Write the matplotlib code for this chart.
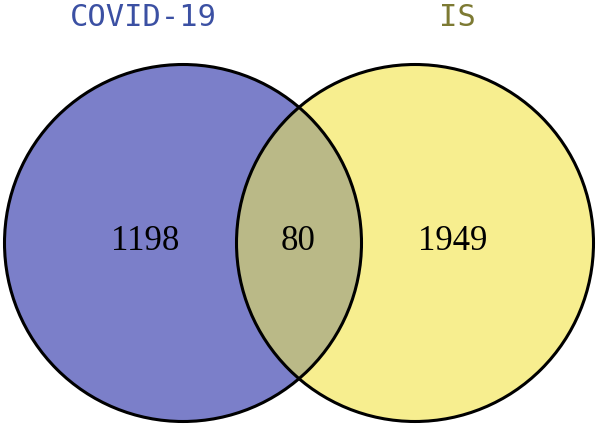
import matplotlib
matplotlib.use("Agg")
import matplotlib.pyplot as plt
from matplotlib.patches import Ellipse

set_names = ["COVID-19", "IS"]
only_counts = [1198, 1949]
shared_count = 80

fig = plt.figure(figsize=(5.96, 4.26), dpi=100)
ax = fig.add_axes([0, 0, 1, 1])
ax.set_xlim(0, 596)
ax.set_ylim(426, 0)
ax.axis("off")

lc, rc, d = (183, 243), (415, 243), 357
left = Ellipse(lc, d, d, facecolor="#7b7fc9", edgecolor="none")
right = Ellipse(rc, d, d, facecolor="#f7ee8f", edgecolor="none")
ax.add_patch(left)
ax.add_patch(right)
# overlap: a copy of the left shape clipped to the right one
mid = Ellipse(lc, d, d, facecolor="#bab987", edgecolor="none")
ax.add_patch(mid)
mid.set_clip_path(right)
for c in [lc, rc]:
    ax.add_patch(Ellipse(c, d, d, facecolor="none", edgecolor="black", linewidth=2.2))

font = "Liberation Serif"
ax.text(143, 18, set_names[0], color="#3b50a3", fontsize=22, family="DejaVu Sans Mono", ha="center", va="center")
ax.text(457, 18, set_names[1], color="#7d7a33", fontsize=22, family="DejaVu Sans Mono", ha="center", va="center")
ax.text(145, 242, str(only_counts[0]), fontsize=25, family=font, ha="center", va="center")
ax.text(298, 242, str(shared_count), fontsize=25, family=font, ha="center", va="center")
ax.text(453, 242, str(only_counts[1]), fontsize=25, family=font, ha="center", va="center")

fig.savefig("out.png", dpi=100)
